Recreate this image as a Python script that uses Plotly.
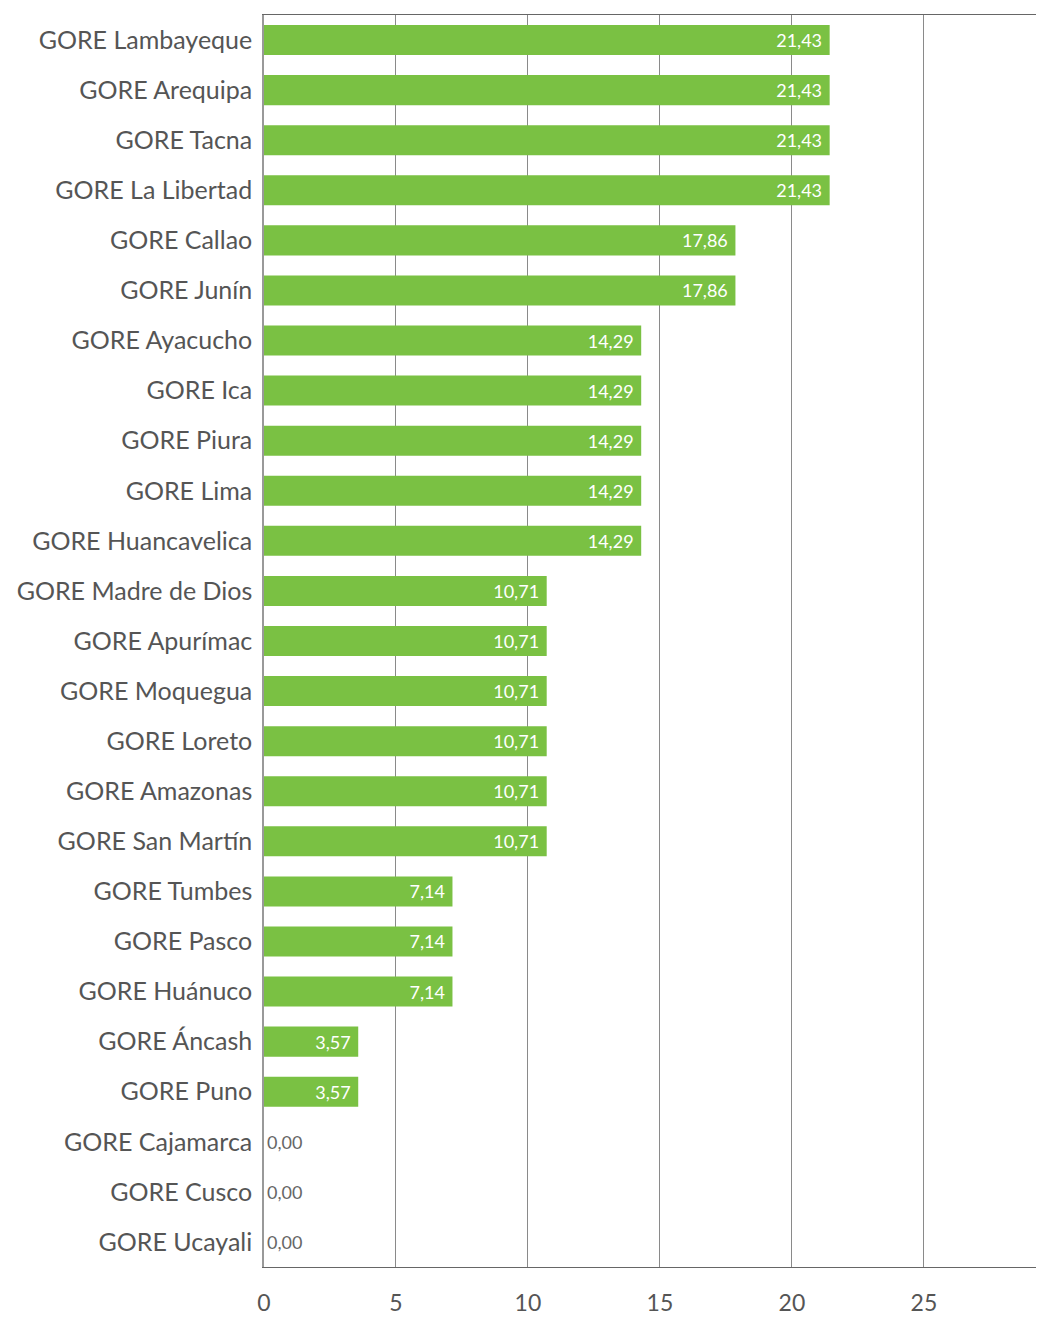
import plotly.graph_objects as go

categories = ["GORE Lambayeque", "GORE Arequipa", "GORE Tacna", "GORE La Libertad",
              "GORE Callao", "GORE Junín", "GORE Ayacucho", "GORE Ica", "GORE Piura",
              "GORE Lima", "GORE Huancavelica", "GORE Madre de Dios", "GORE Apurímac",
              "GORE Moquegua", "GORE Loreto", "GORE Amazonas", "GORE San Martín",
              "GORE Tumbes", "GORE Pasco", "GORE Huánuco", "GORE Áncash", "GORE Puno",
              "GORE Cajamarca", "GORE Cusco", "GORE Ucayali"]
values = [21.43, 21.43, 21.43, 21.43, 17.86, 17.86, 14.29, 14.29, 14.29, 14.29, 14.29,
          10.71, 10.71, 10.71, 10.71, 10.71, 10.71, 7.14, 7.14, 7.14, 3.57, 3.57,
          0.00, 0.00, 0.00]
x_ticks = [0, 5, 10, 15, 20, 25]

labels = [f"{v:.2f}".replace(".", ",") + ("\u00a0" if v > 0 else "") for v in values]
positions = ["inside" if v > 0 else "outside" for v in values]

fig = go.Figure(go.Bar(
    y=categories, x=values, orientation="h",
    marker=dict(color="#7AC143", line=dict(width=0)),
    width=0.6,
    text=labels, textposition=positions,
    insidetextanchor="end",
    insidetextfont=dict(color="white", size=18, family="Lato"),
    outsidetextfont=dict(color="#666666", size=18, family="Lato"),
    textangle=0, cliponaxis=False,
))

fig.update_layout(
    width=1036, height=1310,
    margin=dict(l=256, r=0, t=7, b=51),
    plot_bgcolor="white", paper_bgcolor="white",
    showlegend=False,
    font=dict(family="Lato", color="#555555"),
)
fig.update_xaxes(
    range=[0, 29.55], tickvals=x_ticks, ticktext=[str(t) for t in x_ticks],
    showgrid=True, gridcolor="#8a8a8a", gridwidth=1,
    showline=True, linecolor="#666666", linewidth=1, mirror=True,
    zeroline=False, ticks="", ticklabelstandoff=15, automargin=False,
    tickfont=dict(size=23, color="#555555", family="Lato"),
)
fig.update_yaxes(
    autorange="reversed", showgrid=False,
    showline=True, linecolor="#999999", linewidth=1.5,
    ticks="", ticklabelstandoff=5, automargin=False,
    tickfont=dict(size=25, color="#555555", family="Lato"),
)

fig.write_html("out.html")
